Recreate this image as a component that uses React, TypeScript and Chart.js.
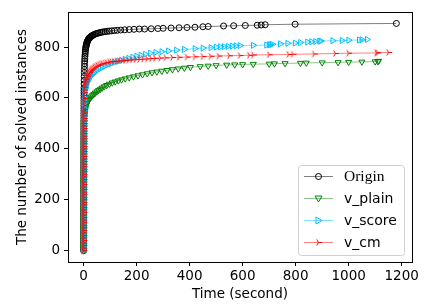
import React, { useEffect, useRef } from "react";
import { Chart, registerables } from "chart.js";

Chart.register(...registerables);

// ---- data ----
// near-vertical start (many instances solved almost instantly), shared by all four runs
const rampTime = [0, 0.01, 0.02, 0.03, 0.04, 0.05, 0.06, 0.07, 0.08, 0.09, 0.1, 0.11, 0.12, 0.13, 0.15, 0.16, 0.17, 0.19, 0.2, 0.21, 0.23, 0.24, 0.26, 0.27, 0.29, 0.3, 0.32, 0.34, 0.35, 0.37, 0.39, 0.41, 0.43, 0.45, 0.47, 0.49, 0.51, 0.53, 0.56, 0.58, 0.6, 0.63, 0.65, 0.68, 0.7, 0.73, 0.76, 0.79, 0.82, 0.85, 0.88, 0.91, 0.95, 0.98, 1.02, 1.06, 1.1, 1.14, 1.18, 1.23, 1.28, 1.33, 1.38, 1.44];
const rampCount = [0, 10, 20, 30, 40, 50, 60, 70, 80, 90, 100, 110, 120, 130, 140, 150, 160, 170, 180, 190, 200, 210, 220, 230, 240, 250, 260, 270, 280, 290, 300, 310, 320, 330, 340, 350, 360, 370, 380, 390, 400, 410, 420, 430, 440, 450, 460, 470, 480, 490, 500, 510, 520, 530, 540, 550, 560, 570, 580, 590, 600, 610, 620, 630];

const originTime = [1.5, 1.7, 1.9, 2.2, 2.5, 2.8, 3.1, 3.5, 3.9, 4.4, 4.9, 5.5, 6.1, 6.8, 7.5, 8.2, 9, 9.8, 10.7, 11.7, 12.8, 14, 15.3, 16.7, 18.2, 20, 22, 24, 26, 28.5, 31, 34, 37, 41, 45, 50, 55, 61, 67, 74, 81, 89, 97, 106, 116, 127, 140, 155, 172, 190, 210, 230, 255, 280, 300, 330, 360, 390, 420, 450, 470, 528, 566, 610, 655, 670, 685, 798, 1180];
const originCount = [640, 655, 670, 685, 700, 712, 724, 735, 745, 755, 764, 772, 780, 787, 793, 798, 803, 807, 811, 815, 819, 822, 825, 828, 831, 834, 836, 838, 840, 842, 844, 846, 848, 850, 852, 854, 855, 857, 858, 860, 861, 862, 863, 864, 865, 866, 867, 868, 869, 870, 871, 871, 872, 873, 874, 875, 876, 877, 878, 880, 881, 883, 884, 885, 886, 887, 888, 890, 893];

const plainTime = [1.5, 1.8, 2.3, 3, 3.8, 4.8, 6, 7.3, 8.8, 10.5, 12.5, 15, 18, 21, 25, 29, 33.5, 38.5, 44, 50, 56, 63, 70, 78, 87, 97, 108, 119, 131, 143, 157, 172, 188, 205, 222, 240, 258, 276, 295, 315, 335, 357, 380, 403, 440, 470, 500, 540, 570, 600, 640, 700, 720, 760, 818, 840, 900, 960, 1000, 1050, 1100, 1110, 1113];
const plainCount = [505, 512, 522, 531, 539, 547, 554, 561, 567, 573, 579, 585, 590, 595, 600, 605, 610, 615, 620, 625, 630, 635, 640, 645, 650, 655, 660, 664, 668, 672, 676, 680, 684, 688, 692, 696, 700, 703, 706, 709, 712, 715, 718, 721, 724, 726, 728, 730, 731, 732, 733, 734, 735, 736, 737, 738, 739, 740, 741, 742, 743, 744, 745];

const scoreTime = [1.3, 1.5, 1.8, 2.3, 3, 3.9, 5, 6.2, 7.6, 9.2, 11, 13, 15.5, 18, 21, 25, 29.5, 34.5, 40, 46, 53, 61, 70, 80, 91, 103, 116, 129, 142, 156, 170, 185, 200, 216, 233, 252, 272, 295, 320, 350, 380, 420, 450, 480, 500, 516, 530, 545, 560, 575, 590, 640, 690, 700, 705, 712, 742, 770, 798, 818, 845, 860, 875, 890, 895, 940, 975, 1000, 1040, 1050, 1070];
const scoreCount = [585, 592, 604, 614, 622, 630, 637, 643, 649, 655, 660, 665, 670, 675, 680, 685, 690, 695, 700, 705, 710, 715, 720, 725, 730, 735, 740, 744, 748, 752, 756, 760, 764, 768, 772, 776, 779, 782, 785, 788, 791, 794, 796, 798, 800, 801, 802, 803, 804, 805, 806, 807, 808, 809, 810, 811, 813, 815, 816, 818, 820, 821, 822, 823, 824, 825, 826, 827, 828, 829, 830];

const cmTime = [1.15, 1.2, 1.4, 1.7, 2, 2.5, 3.1, 3.8, 4.7, 5.8, 7, 8.5, 10, 12, 14, 16.5, 19, 22, 25, 28.5, 32, 36, 41, 46, 52, 58, 65, 72, 80, 88, 97, 106, 115, 125, 135, 146, 157, 170, 183, 197, 211, 225, 240, 255, 270, 290, 310, 335, 360, 390, 420, 450, 480, 510, 550, 590, 625, 640, 700, 774, 790, 870, 950, 1000, 1105, 1110, 1151];
const cmCount = [545, 555, 570, 585, 598, 610, 621, 632, 642, 651, 659, 666, 672, 678, 684, 690, 695, 700, 705, 709, 713, 717, 721, 725, 728, 731, 734, 736, 738, 740, 742, 743, 744, 745, 746, 747, 748, 749, 750, 751, 752, 753, 754, 755, 756, 757, 758, 759, 760, 761, 762, 763, 764, 765, 766, 767, 768, 769, 770, 771, 772, 773, 775, 776, 777, 778, 779];

const seriesNames = ["Origin", "v_plain", "v_score", "v_cm"];
const xTicks = [0, 200, 400, 600, 800, 1000, 1200];
const yTicks = [0, 200, 400, 600, 800];
const xTitle = "Time (second)";
const yTitle = "The number of solved instances";

const SANS = "'DejaVu Sans', sans-serif";

function series(t: number[], v: number[], rampUpTo: number) {
  const pts: { x: number; y: number }[] = [];
  rampCount.forEach((c, i) => {
    if (c <= rampUpTo) pts.push({ x: rampTime[i], y: c });
  });
  t.forEach((x, i) => pts.push({ x, y: v[i] }));
  return pts;
}

function drawTriRight(ctx: CanvasRenderingContext2D, cx: number, cy: number, r: number, color: string) {
  ctx.save();
  ctx.strokeStyle = color;
  ctx.lineWidth = 1;
  ctx.beginPath();
  ctx.moveTo(cx, cy);
  ctx.lineTo(cx + r, cy);
  ctx.moveTo(cx, cy);
  ctx.lineTo(cx - r * 0.5, cy - r * 0.866);
  ctx.moveTo(cx, cy);
  ctx.lineTo(cx - r * 0.5, cy + r * 0.866);
  ctx.stroke();
  ctx.restore();
}

function makeTriRightCanvas(color: string) {
  const c = document.createElement("canvas");
  c.width = 9;
  c.height = 9;
  const ctx = c.getContext("2d")!;
  drawTriRight(ctx, 4.5, 4.5, 3.5, color);
  return c;
}

const styles = [
  { line: "rgba(0,0,0,0.5)", mark: "#000000", kind: "circle" },
  { line: "rgba(0,128,0,0.45)", mark: "#008000", kind: "down" },
  { line: "rgba(0,191,255,0.5)", mark: "#00BFFF", kind: "right" },
  { line: "rgba(255,0,0,0.5)", mark: "#FF0000", kind: "tri" },
];

function drawMarker(ctx: CanvasRenderingContext2D, kind: string, x: number, y: number, color: string) {
  if (kind === "tri") {
    drawTriRight(ctx, x, y, 3.5, color);
    return;
  }
  ctx.save();
  ctx.strokeStyle = color;
  ctx.lineWidth = 1;
  ctx.beginPath();
  if (kind === "circle") {
    ctx.arc(x, y, 3, 0, Math.PI * 2);
  } else if (kind === "down") {
    ctx.moveTo(x - 3.5, y - 2.5);
    ctx.lineTo(x + 3.5, y - 2.5);
    ctx.lineTo(x, y + 3.5);
    ctx.closePath();
  } else {
    ctx.moveTo(x - 2.5, y - 3.5);
    ctx.lineTo(x - 2.5, y + 3.5);
    ctx.lineTo(x + 3.5, y);
    ctx.closePath();
  }
  ctx.stroke();
  ctx.restore();
}

const framePlugin = {
  id: "frameAndLegend",
  afterDatasetsDraw(chart: any) {
    const { ctx, chartArea } = chart;
    ctx.save();
    ctx.strokeStyle = "#000";
    ctx.lineWidth = 1;
    ctx.strokeRect(
      Math.round(chartArea.left) + 0.5,
      Math.round(chartArea.top) + 0.5,
      Math.round(chartArea.right - chartArea.left),
      Math.round(chartArea.bottom - chartArea.top)
    );
    ctx.restore();
  },
  afterDraw(chart: any) {
    const { ctx } = chart;
    const bx = 298.5, by = 165.5, bw = 106, bh = 90, r = 3;
    ctx.save();
    ctx.beginPath();
    ctx.moveTo(bx + r, by);
    ctx.lineTo(bx + bw - r, by);
    ctx.quadraticCurveTo(bx + bw, by, bx + bw, by + r);
    ctx.lineTo(bx + bw, by + bh - r);
    ctx.quadraticCurveTo(bx + bw, by + bh, bx + bw - r, by + bh);
    ctx.lineTo(bx + r, by + bh);
    ctx.quadraticCurveTo(bx, by + bh, bx, by + bh - r);
    ctx.lineTo(bx, by + r);
    ctx.quadraticCurveTo(bx, by, bx + r, by);
    ctx.closePath();
    ctx.fillStyle = "rgba(255,255,255,0.8)";
    ctx.fill();
    ctx.strokeStyle = "#d0d0d0";
    ctx.lineWidth = 1;
    ctx.stroke();

    seriesNames.forEach((name, i) => {
      const y = 176 + i * 22;
      const st = styles[i];
      ctx.strokeStyle = st.line;
      ctx.lineWidth = 1;
      ctx.beginPath();
      ctx.moveTo(304, y + 0.5);
      ctx.lineTo(333, y + 0.5);
      ctx.stroke();
      drawMarker(ctx, st.kind, 318.5, y + 0.5, st.mark);
      ctx.fillStyle = "#000";
      ctx.textBaseline = "middle";
      ctx.textAlign = "left";
      ctx.font = i === 0 ? "15.5px 'Liberation Serif', 'Times New Roman', serif" : "14px " + SANS;
      ctx.fillText(name, 344, y + 1);
    });
    ctx.restore();
  },
};

export default function App() {
  const ref = useRef<HTMLCanvasElement | null>(null);

  useEffect(() => {
    if (!ref.current) return;
    const triCanvas = makeTriRightCanvas("#FF0000");
    const base = {
      borderWidth: 1,
      pointRadius: 3,
      pointBorderWidth: 1,
      pointBackgroundColor: "rgba(0,0,0,0)",
      tension: 0,
      fill: false,
    };
    const chart = new Chart(ref.current, {
      type: "line",
      data: {
        datasets: [
          {
            ...base,
            label: seriesNames[0],
            data: series(originTime, originCount, 630),
            borderColor: styles[0].line,
            pointBorderColor: styles[0].mark,
            pointStyle: "circle",
            order: 4,
          },
          {
            ...base,
            label: seriesNames[1],
            data: series(plainTime, plainCount, 500),
            borderColor: styles[1].line,
            pointBorderColor: styles[1].mark,
            pointStyle: "triangle",
            pointRotation: 180,
            pointRadius: 3.5,
            order: 3,
          },
          {
            ...base,
            label: seriesNames[2],
            data: series(scoreTime, scoreCount, 580),
            borderColor: styles[2].line,
            pointBorderColor: styles[2].mark,
            pointStyle: "triangle",
            pointRotation: 90,
            pointRadius: 3.5,
            order: 2,
          },
          {
            ...base,
            label: seriesNames[3],
            data: series(cmTime, cmCount, 540),
            borderColor: styles[3].line,
            pointBorderColor: styles[3].mark,
            pointStyle: triCanvas as any,
            order: 1,
          },
        ] as any,
      },
      options: {
        animation: false,
        responsive: false,
        devicePixelRatio: 1,
        layout: { padding: { left: 0, top: 7, right: 24, bottom: 0 } },
        plugins: {
          legend: { display: false },
          tooltip: { enabled: false },
          title: { display: false },
        },
        scales: {
          x: {
            type: "linear",
            min: -59,
            max: 1239,
            afterBuildTicks: (s: any) => {
              s.ticks = xTicks.map((v) => ({ value: v }));
            },
            afterFit: (s: any) => {
              s.height = 46;
            },
            grid: { drawOnChartArea: false, drawTicks: true, tickLength: 4, color: "#000" },
            border: { display: true, color: "#000", width: 1 },
            ticks: {
              color: "#000",
              font: { family: SANS, size: 13.5 },
              padding: 2,
              maxRotation: 0,
              autoSkip: false,
              callback: (v: any) => String(v),
            },
            title: {
              display: true,
              text: xTitle,
              color: "#000",
              font: { family: SANS, size: 13.5 },
              padding: { top: 0, bottom: 5 },
            },
          },
          y: {
            type: "linear",
            min: -44.6,
            max: 937.6,
            afterBuildTicks: (s: any) => {
              s.ticks = yTicks.map((v) => ({ value: v }));
            },
            afterFit: (s: any) => {
              s.width = 68;
            },
            grid: { drawOnChartArea: false, drawTicks: true, tickLength: 4, color: "#000" },
            border: { display: true, color: "#000", width: 1 },
            ticks: {
              color: "#000",
              font: { family: SANS, size: 13.5 },
              padding: 4,
              autoSkip: false,
              callback: (v: any) => String(v),
            },
            title: {
              display: true,
              text: yTitle,
              color: "#000",
              font: { family: SANS, size: 13.5 },
              padding: { top: 14, bottom: 0 },
            },
          },
        },
      } as any,
      plugins: [framePlugin],
    });
    return () => chart.destroy();
  }, []);

  return (
    <div style={{ position: "absolute", left: 0, top: 0, width: 436, height: 308, background: "#fff" }}>
      <canvas ref={ref} width={436} height={308} style={{ width: 436, height: 308 }} />
    </div>
  );
}
